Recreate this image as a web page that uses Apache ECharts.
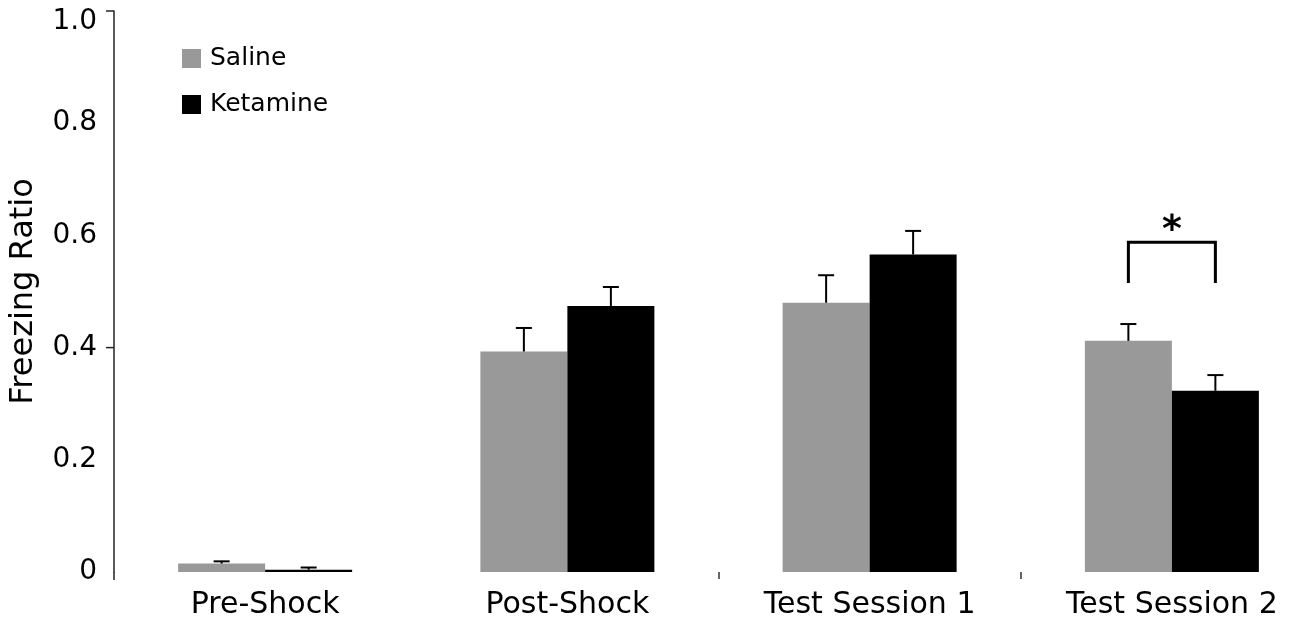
<!DOCTYPE html>
<html>
<head>
<meta charset="utf-8">
<script src="https://cdn.jsdelivr.net/npm/echarts@6/dist/echarts.min.js"></script>
<style>
  html, body { margin: 0; padding: 0; background: #fff; }
  #root { width: 1300px; height: 626px; }
</style>
</head>
<body>
<div id="root"></div>
<script>
// data
const categories = ['Pre-Shock', 'Post-Shock', 'Test Session 1', 'Test Session 2'];
const salineMean = [0.015, 0.393, 0.480, 0.412];
const salineErr = [0.004, 0.042, 0.049, 0.030];
const ketamineMean = [0.004, 0.474, 0.566, 0.323];
const ketamineErr = [0.004, 0.034, 0.042, 0.028];
const yTicksShown = [1.0, 0.4];

// significance bracket over Test Session 2
const sigCategory = 3;
const sigTop = 0.588;
const sigLeg = 0.515;
const sigLabel = '*';

const FONT = 'DejaVu Sans';
const BAR_W = 87;
const GRAY = '#999999';

let root = document.getElementById('root');
let myChart = echarts.init(root);

function errorBars(means, errs, side) {
  return {
    type: 'custom',
    z: 5,
    silent: true,
    data: means.map((m, i) => [i, m, errs[i]]),
    encode: { x: 0, y: 1 },
    renderItem: function (params, api) {
      const c = api.value(0);
      const base = api.coord([c, api.value(1)]);
      const top = api.coord([c, api.value(1) + api.value(2)]);
      const x = base[0] + side * BAR_W / 2;
      const st = { stroke: '#000', lineWidth: 2 };
      return {
        type: 'group',
        children: [
          { type: 'line', shape: { x1: x, y1: base[1], x2: x, y2: top[1] }, style: st },
          { type: 'line', shape: { x1: x - 8, y1: top[1], x2: x + 8, y2: top[1] }, style: st }
        ]
      };
    }
  };
}

let option = {
  animation: false,
  textStyle: { fontFamily: FONT },
  legend: {
    orient: 'vertical',
    left: 182,
    top: 46,
    padding: 0,
    itemGap: 21,
    itemWidth: 19,
    itemHeight: 19,
    icon: 'rect',
    data: ['Saline', 'Ketamine'],
    textStyle: { fontFamily: FONT, fontSize: 25, color: '#000', lineHeight: 25, padding: [0, 0, 0, 4] }
  },
  grid: { left: 114, top: 11, width: 1209, height: 561, outerBoundsMode: 'none', containLabel: false },
  xAxis: {
    type: 'category',
    data: categories,
    axisLine: { show: false },
    axisTick: {
      show: true,
      length: 7,
      interval: function (i) { return i === 2 || i === 3; },
      lineStyle: { color: '#333', width: 1.5 }
    },
    axisLabel: { fontSize: 30, color: '#000', margin: 18, fontFamily: FONT },
    splitLine: { show: false }
  },
  yAxis: {
    type: 'value',
    min: 0,
    max: 1,
    interval: 0.2,
    name: 'Freezing Ratio',
    nameLocation: 'middle',
    nameRotate: 90,
    nameGap: 74,
    nameTextStyle: { fontSize: 32, color: '#000', fontFamily: FONT },
    axisLine: { show: true, lineStyle: { color: '#222', width: 1.5 } },
    axisTick: { show: false },
    axisLabel: {
      fontSize: 28,
      color: '#000',
      margin: 17,
      fontFamily: FONT,
      formatter: v => v === 0 ? '0' : (v === 1 ? '{top|1.0}' : v.toFixed(1)),
      rich: { top: { fontSize: 28, fontFamily: FONT, color: '#000', padding: [22, 0, 0, 0] } }
    },
    splitLine: { show: false }
  },
  series: [
    {
      name: 'Saline',
      type: 'bar',
      data: salineMean,
      barWidth: BAR_W,
      barGap: '0%',
      itemStyle: { color: GRAY }
    },
    {
      name: 'Ketamine',
      type: 'bar',
      data: ketamineMean,
      barWidth: BAR_W,
      barGap: '0%',
      itemStyle: { color: '#000' }
    },
    errorBars(salineMean, salineErr, -1),
    errorBars(ketamineMean, ketamineErr, 1),
    {
      type: 'custom',
      z: 6,
      silent: true,
      data: [[sigCategory, sigTop, sigLeg]],
      encode: { x: 0, y: 1 },
      renderItem: function (params, api) {
        const c = api.value(0);
        const t = api.coord([c, api.value(1)]);
        const b = api.coord([c, api.value(2)]);
        const xl = t[0] - BAR_W / 2, xr = t[0] + BAR_W / 2;
        return {
          type: 'group',
          children: [
            {
              type: 'polyline',
              shape: { points: [[xl, b[1]], [xl, t[1]], [xr, t[1]], [xr, b[1]]] },
              style: { stroke: '#000', lineWidth: 3, fill: null }
            },
            {
              type: 'text',
              x: t[0],
              y: t[1] + 8,
              style: {
                text: sigLabel,
                fontFamily: FONT,
                fontWeight: 'bold',
                fontSize: 38,
                fill: '#000',
                align: 'center',
                verticalAlign: 'bottom'
              }
            }
          ]
        };
      }
    }
  ]
};
myChart.setOption(option);

// axis extension below zero and the few visible left ticks
const gridLeft = 114;
const y0 = myChart.convertToPixel({ yAxisIndex: 0 }, 0);
const extra = [
  { type: 'line', shape: { x1: gridLeft, y1: y0, x2: gridLeft, y2: y0 + 8 }, style: { stroke: '#222', lineWidth: 1.5 } }
];
yTicksShown.forEach(v => {
  const y = myChart.convertToPixel({ yAxisIndex: 0 }, v);
  extra.push({ type: 'line', shape: { x1: gridLeft - 8, y1: y, x2: gridLeft, y2: y }, style: { stroke: '#222', lineWidth: 1.5 } });
});
myChart.setOption({ graphic: extra });
</script>
</body>
</html>
